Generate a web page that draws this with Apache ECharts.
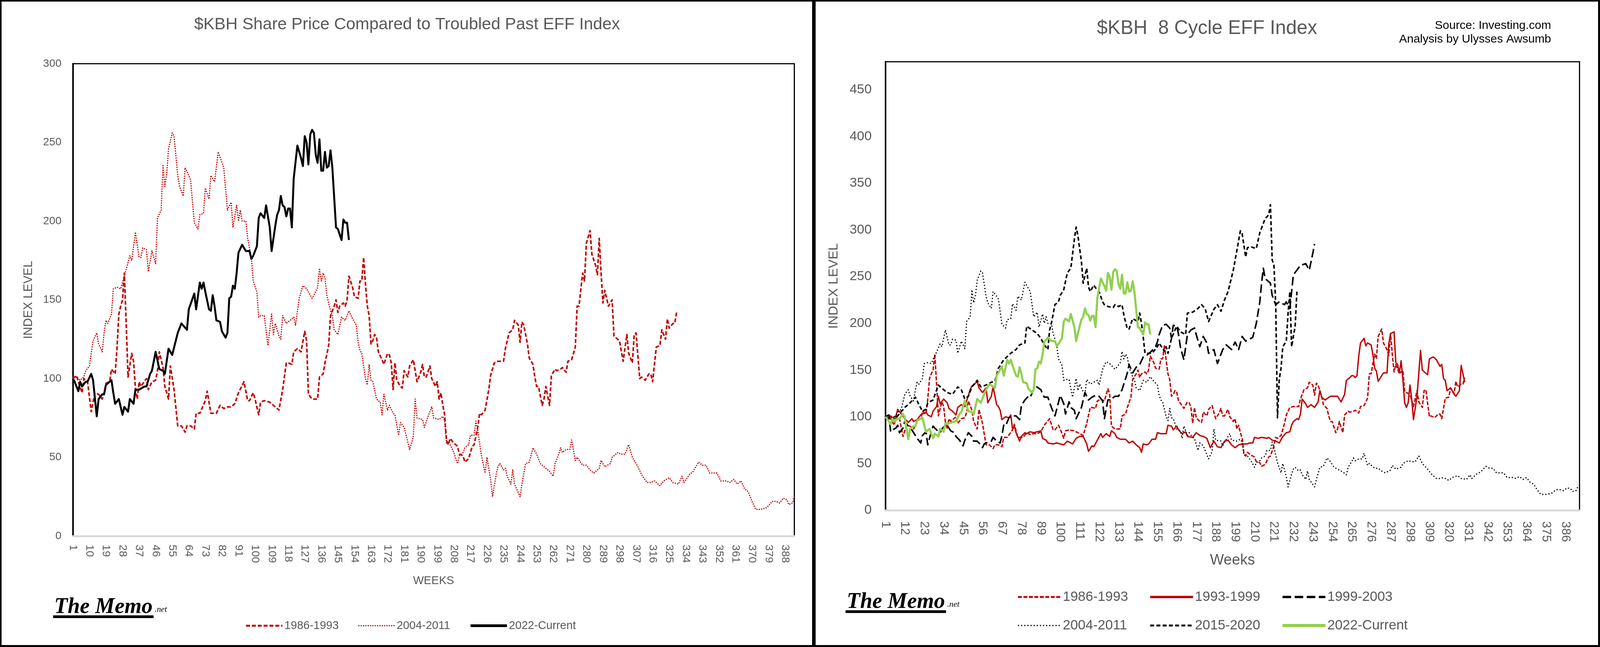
<!DOCTYPE html>
<html><head><meta charset="utf-8">
<script src="https://cdn.jsdelivr.net/npm/echarts@6/dist/echarts.min.js"></script>
<style>
html,body{margin:0;padding:0;background:#fff;overflow:hidden;}
#wrap{position:relative;width:100vw;height:100vh;overflow:hidden;background:#fff;}
.pane{position:absolute;top:0;}
.frame{position:absolute;top:0;border:solid #000;box-sizing:border-box;pointer-events:none;}
</style></head><body>
<div id="wrap">
<div id="left" class="pane"></div><div id="right" class="pane"></div>
<div id="fl" class="frame"></div><div id="fr" class="frame"></div>
</div>
<script>
// ---------- tick labels ----------
const weeksLeft = Array.from({length: 393}, (_, i) => String(i + 1));
const weeksRight = Array.from({length: 394}, (_, i) => String(i + 1));

// ---------- series values: [week, index level] ----------
const s1986 = [[1,100],[3,102],[4,98],[6,91],[7,100],[9,98],[11,79],[12,85],[13,91],[15,90],[17,87],[18,91],[19,97],[21,98],[22,106],[24,103],[25,119],[26,141],[27,146],[28,150],[29,167],[30,135],[31,101],[33,116],[34,111],[35,94],[36,87],[37,98],[38,95],[41,100],[42,93],[44,98],[46,99],[47,105],[48,117],[50,107],[51,95],[53,87],[54,108],[56,93],[58,70],[60,70],[62,66],[63,70],[65,70],[67,68],[68,78],[70,78],[73,86],[74,92],[76,78],[79,78],[81,83],[83,81],[85,82],[87,82],[89,84],[91,91],[94,98],[96,86],[97,86],[99,91],[100,87],[102,77],[103,85],[105,86],[108,85],[111,82],[113,80],[115,93],[117,110],[118,110],[120,109],[121,117],[123,119],[125,117],[127,130],[128,124],[129,90],[131,87],[132,87],[134,87],[135,101],[137,103],[138,110],[140,121],[141,140],[143,146],[144,150],[145,142],[146,146],[148,148],[149,146],[150,150],[151,165],[153,158],[154,152],[156,151],[157,162],[158,162],[159,177],[160,160],[161,146],[162,140],[163,122],[164,124],[165,128],[166,126],[167,117],[169,112],[170,109],[172,116],[173,115],[174,110],[175,93],[176,110],[177,99],[179,95],[180,94],[181,105],[183,101],[184,108],[186,112],[188,98],[190,104],[191,109],[192,101],[193,101],[195,108],[196,100],[198,95],[199,98],[200,87],[201,91],[202,83],[203,77],[204,61],[205,58],[206,62],[208,59],[210,57],[211,52],[213,51],[214,47],[216,49],[218,57],[219,58],[221,69],[222,78],[223,77],[225,80],[227,93],[228,102],[230,110],[232,111],[235,111],[236,119],[238,129],[240,131],[241,137],[243,134],[244,123],[245,136],[246,134],[248,122],[249,113],[251,109],[252,101],[253,95],[254,95],[256,83],[257,87],[258,95],[260,83],[261,102],[263,106],[264,105],[266,106],[267,107],[269,104],[270,111],[272,112],[274,120],[275,146],[276,146],[278,167],[279,162],[280,186],[282,194],[283,179],[285,172],[286,166],[287,189],[288,167],[289,148],[290,156],[292,146],[294,150],[295,127],[297,125],[298,124],[300,111],[302,128],[303,116],[305,110],[306,128],[307,129],[309,100],[310,101],[312,99],[314,103],[315,103],[316,98],[318,120],[320,121],[321,131],[323,125],[324,138],[325,132],[327,135],[328,135],[329,142]];

const s2004 = [[1,101],[3,101],[5,99],[7,101],[8,105],[10,108],[11,116],[12,124],[14,129],[15,122],[17,117],[18,129],[19,137],[20,135],[22,141],[23,157],[25,158],[27,157],[28,161],[29,165],[32,178],[33,175],[35,193],[37,177],[38,177],[39,183],[41,182],[42,168],[44,181],[46,173],[47,202],[49,207],[50,236],[51,222],[52,230],[53,246],[55,256],[56,254],[58,229],[59,222],[61,216],[62,234],[64,229],[65,226],[67,199],[68,197],[69,195],[70,204],[72,205],[73,221],[75,214],[76,229],[78,225],[80,244],[83,234],[85,207],[87,212],[88,196],[90,210],[91,200],[92,207],[93,200],[95,200],[96,189],[98,177],[99,162],[101,155],[102,139],[103,140],[105,140],[107,121],[109,141],[110,128],[111,135],[113,127],[114,125],[115,140],[117,135],[119,137],[121,139],[122,134],[124,151],[126,159],[128,157],[129,155],[131,151],[132,153],[134,158],[135,170],[136,162],[137,167],[138,164],[139,153],[141,143],[142,140],[143,131],[145,128],[147,139],[149,137],[151,143],[153,138],[155,134],[156,123],[157,118],[158,116],[160,100],[161,96],[162,109],[163,99],[164,98],[166,87],[168,85],[169,77],[170,90],[172,80],[173,83],[175,78],[176,77],[178,64],[179,72],[181,69],[184,55],[186,63],[187,87],[188,75],[191,74],[192,69],[194,76],[196,82],[197,75],[200,74],[202,76],[203,73],[204,59],[206,58],[208,53],[210,46],[211,51],[213,53],[214,56],[216,58],[217,64],[219,64],[220,73],[221,67],[223,51],[225,40],[226,50],[228,36],[229,25],[231,39],[232,44],[233,46],[235,42],[236,43],[237,38],[239,33],[240,42],[241,33],[244,25],[245,33],[247,46],[249,47],[251,56],[253,52],[255,46],[257,44],[260,41],[262,38],[263,46],[265,52],[266,56],[267,53],[269,55],[271,55],[272,61],[274,48],[275,50],[278,45],[280,45],[282,42],[284,40],[287,43],[288,48],[290,44],[293,46],[294,50],[297,53],[299,52],[301,52],[303,58],[305,50],[308,44],[310,39],[313,34],[315,34],[317,35],[320,32],[322,35],[325,37],[327,34],[330,33],[332,38],[333,34],[336,39],[338,41],[341,47],[343,45],[345,45],[347,40],[351,40],[353,35],[356,35],[358,34],[360,36],[362,33],[364,35],[366,30],[368,28],[370,22],[372,17],[375,17],[378,18],[381,22],[383,22],[385,21],[387,24],[389,23],[390,20],[392,21],[393,25]];

const s2022 = [[1,100],[2,98],[4,92],[5,98],[6,95],[8,98],[9,98],[11,103],[12,99],[14,76],[15,87],[17,90],[18,90],[19,96],[20,97],[22,99],[23,91],[24,84],[26,87],[28,77],[29,82],[31,79],[32,87],[34,84],[35,93],[37,93],[40,95],[41,95],[43,103],[44,105],[46,117],[48,106],[50,105],[51,103],[53,119],[55,115],[58,129],[60,135],[63,131],[64,144],[67,154],[68,144],[70,161],[71,157],[72,161],[73,155],[75,144],[76,143],[77,153],[78,146],[79,137],[81,136],[82,130],[84,126],[85,129],[86,151],[87,152],[88,159],[89,157],[90,167],[91,180],[93,185],[95,181],[97,181],[98,176],[99,178],[100,181],[101,184],[102,202],[103,205],[105,202],[106,210],[108,196],[109,181],[111,197],[112,204],[113,207],[114,216],[115,210],[116,209],[117,203],[118,208],[119,208],[120,196],[121,227],[123,248],[125,240],[126,235],[127,254],[128,250],[129,236],[130,255],[131,258],[132,256],[133,242],[134,237],[135,252],[136,232],[137,232],[138,244],[139,234],[140,235],[141,245],[142,234],[144,196],[145,195],[147,188],[148,201],[149,199],[150,199],[151,188]];

const s1993 = [[1,100],[3,98],[4,101],[5,99],[7,101],[8,108],[10,103],[12,98],[14,94],[16,98],[17,95],[19,97],[21,102],[22,103],[24,105],[25,102],[27,100],[28,106],[30,111],[31,122],[32,114],[34,119],[36,115],[37,109],[39,106],[41,102],[42,110],[44,113],[46,111],[47,117],[49,129],[50,133],[51,134],[53,138],[54,131],[56,126],[58,131],[59,115],[61,122],[62,132],[64,113],[65,111],[66,107],[67,97],[69,100],[71,99],[72,102],[73,87],[74,90],[75,83],[77,74],[78,79],[80,83],[81,82],[83,84],[85,83],[87,84],[89,85],[90,77],[92,75],[93,72],[96,71],[98,72],[102,70],[104,74],[107,71],[109,77],[111,79],[113,79],[115,71],[116,63],[118,69],[119,68],[121,75],[123,82],[124,78],[126,82],[128,79],[129,85],[131,82],[132,78],[134,76],[137,76],[139,72],[141,74],[143,70],[145,67],[146,62],[147,71],[149,70],[150,71],[152,76],[154,76],[155,83],[157,82],[160,82],[161,91],[163,90],[164,86],[166,90],[167,86],[169,82],[171,84],[172,79],[175,78],[177,83],[179,80],[181,79],[183,77],[185,67],[187,74],[189,68],[191,67],[193,74],[195,75],[197,70],[199,67],[201,70],[203,71],[206,71],[207,72],[209,72],[210,78],[212,77],[214,78],[217,77],[218,78],[220,75],[222,74],[224,72],[226,79],[228,83],[230,84],[231,91],[232,95],[234,98],[235,97],[236,103],[237,119],[239,114],[240,110],[242,113],[244,110],[245,113],[246,116],[247,128],[248,121],[250,118],[253,122],[255,122],[257,122],[259,116],[261,124],[262,139],[264,142],[265,144],[266,144],[267,142],[268,144],[269,165],[270,179],[272,184],[273,176],[274,179],[276,177],[277,167],[278,152],[279,149],[280,138],[282,144],[283,147],[285,147],[286,178],[287,189],[289,191],[290,158],[291,156],[292,147],[293,160],[294,140],[295,115],[296,110],[297,115],[298,134],[299,119],[300,97],[302,122],[304,171],[305,150],[308,145],[309,162],[311,164],[312,163],[313,161],[315,154],[316,156],[317,141],[318,139],[319,128],[321,131],[323,124],[324,122],[326,128],[327,155],[329,137]];

const s1999 = [[1,100],[3,102],[4,84],[5,86],[7,88],[8,91],[9,83],[11,88],[12,95],[14,90],[16,86],[18,80],[19,77],[21,72],[22,80],[24,84],[25,70],[27,84],[28,90],[30,86],[32,83],[33,87],[35,91],[36,91],[38,85],[40,83],[41,79],[43,75],[45,69],[46,75],[48,83],[50,79],[51,74],[53,74],[55,70],[56,67],[57,71],[58,72],[61,74],[62,78],[64,74],[66,72],[67,80],[68,91],[69,90],[71,99],[73,101],[75,101],[77,97],[78,112],[80,118],[82,122],[83,121],[85,129],[86,133],[89,129],[91,121],[93,121],[95,110],[97,101],[98,108],[100,123],[102,114],[103,103],[105,116],[106,110],[108,107],[109,98],[111,106],[112,110],[114,126],[116,118],[118,121],[120,123],[122,122],[124,117],[125,98],[127,118],[129,119],[131,122],[133,122],[135,129],[138,147],[139,156],[141,147],[143,153],[145,156],[147,164],[149,166],[151,169],[154,175],[155,180],[156,188],[158,198],[160,199],[162,195],[163,184],[164,198],[166,197],[167,188],[168,175],[169,168],[170,161],[172,188],[174,193],[176,195],[177,188],[179,175],[181,186],[183,179],[184,168],[187,172],[189,157],[192,172],[194,177],[197,172],[199,180],[201,172],[203,186],[205,181],[209,185],[211,200],[213,223],[214,243],[215,259],[216,248],[219,243],[220,230],[222,220],[224,223],[227,220],[228,223],[230,216],[231,234],[232,252],[234,257],[236,262],[239,264],[241,257],[243,275],[244,285]];

const s2015 = [[1,100],[5,97],[8,101],[12,110],[15,115],[18,121],[20,113],[22,106],[24,108],[25,115],[28,118],[31,134],[34,129],[36,126],[39,124],[42,132],[44,129],[46,119],[48,122],[50,132],[53,139],[55,132],[58,134],[61,137],[63,138],[65,152],[68,161],[72,168],[75,172],[77,177],[80,179],[81,197],[84,193],[87,189],[89,184],[91,177],[93,172],[94,193],[95,200],[97,220],[99,223],[100,230],[102,236],[104,254],[106,259],[108,290],[109,303],[110,294],[112,266],[113,243],[115,259],[116,239],[117,234],[119,241],[120,238],[122,234],[124,223],[125,220],[127,218],[130,217],[131,220],[133,218],[135,220],[136,209],[138,194],[139,194],[141,205],[144,202],[145,211],[146,200],[147,185],[148,168],[150,168],[152,168],[155,175],[156,179],[159,170],[160,175],[161,168],[163,184],[165,193],[166,197],[168,191],[171,188],[172,211],[175,212],[178,216],[180,220],[182,216],[184,202],[187,215],[189,220],[191,213],[193,225],[195,234],[198,257],[200,278],[202,299],[203,296],[205,271],[206,281],[208,282],[211,280],[213,297],[216,312],[218,316],[219,327],[220,268],[221,262],[222,220],[223,99],[224,140],[225,152],[226,175],[228,181],[229,211],[230,234],[231,175],[233,197],[234,234]];

// ---------- layout scale (design size 4219 x 1656) ----------
const VW = window.innerWidth || 4219, VH = window.innerHeight || 1656;
const sx = VW / 4219, sy = VH / 1656, sf = Math.min(sx, sy);
const X = v => v * sx, Y = v => v * sy, F = v => v * sf;

const splitX = X(2147);
const elL = document.getElementById('left'), elR = document.getElementById('right');
elL.style.left = '0px'; elL.style.width = splitX + 'px'; elL.style.height = VH + 'px';
elR.style.left = splitX + 'px'; elR.style.width = (VW - splitX) + 'px'; elR.style.height = VH + 'px';
const fl = document.getElementById('fl'), fr = document.getElementById('fr');
fl.style.left = '0px'; fl.style.width = X(2147) + 'px'; fl.style.height = VH + 'px';
fl.style.borderWidth = '4px 5px 5px 4px';
fr.style.left = X(2146) + 'px'; fr.style.width = (VW - X(2146)) + 'px'; fr.style.height = VH + 'px';
fr.style.borderWidth = '4px 5px 5px 5px';

// ---------- helpers ----------
const SANS = "'Liberation Sans', Arial, sans-serif";
const GREY = '#595959';
const RED = '#C00000';
function line(name, pts, color, width, type, z) {
  return {
    name: name, type: 'line', data: pts.map(p => [String(p[0]), p[1]]),
    showSymbol: false, symbol: 'none', z: z, animation: false,
    lineStyle: {color: color, width: width, type: type, cap: 'butt', join: 'round'},
    itemStyle: {color: color}, emphasis: {disabled: true}
  };
}
function logo(x, y) {
  return [
    {type: 'text', left: X(x), top: Y(y), style: {text: 'The Memo', font: 'italic bold ' + F(58) + 'px "Liberation Serif"', fill: '#000'}},
    {type: 'text', left: X(x + 265), top: Y(y + 24), style: {text: '.net', font: 'italic ' + F(22) + 'px "Liberation Serif"', fill: '#000'}},
    {type: 'rect', left: X(x - 3), top: Y(y + 49), shape: {width: X(265), height: Y(7)}, style: {fill: '#000'}}
  ];
}
const legendIcon = {opacity: 0};
const legItem = (name, w) => ({name: name, lineStyle: {width: w}});

// ---------- left chart ----------
const left = echarts.init(elL, null, {renderer: 'canvas'});
left.setOption({
  animation: false,
  backgroundColor: 'transparent',
  title: {text: '$KBH Share Price Compared to Troubled Past EFF Index', left: 'center', top: Y(42), padding: 0,
    textStyle: {fontFamily: SANS, fontSize: F(44), fontWeight: 'normal', color: GREY}},
  grid: {left: X(192), right: X(52), top: Y(163), bottom: Y(284), show: true, borderColor: '#000', borderWidth: 3},
  xAxis: {type: 'category', data: weeksLeft, boundaryGap: false,
    axisLine: {lineStyle: {color: '#D9D9D9', width: 5}}, axisTick: {show: false},
    axisLabel: {interval: 8, rotate: -90, fontFamily: SANS, fontSize: F(29), color: GREY, margin: Y(22)},
    name: 'WEEKS', nameLocation: 'middle', nameGap: Y(100),
    nameTextStyle: {fontFamily: SANS, fontSize: F(30), color: GREY, verticalAlign: 'top'}},
  yAxis: {type: 'value', min: 0, max: 300, interval: 50,
    axisLine: {show: true, lineStyle: {color: '#000', width: 4}}, axisTick: {show: false}, splitLine: {show: false},
    axisLabel: {fontFamily: SANS, fontSize: F(29), color: GREY, margin: X(30)},
    name: 'INDEX LEVEL', nameLocation: 'middle', nameGap: X(100), nameRotate: 90,
    nameTextStyle: {fontFamily: SANS, fontSize: F(32), color: GREY}},
  legend: {left: X(641), top: Y(1582), itemWidth: X(96), itemHeight: Y(20), itemGap: X(50), itemStyle: legendIcon,
    textStyle: {fontFamily: SANS, fontSize: F(30), color: GREY},
    data: [legItem('1986-1993', 5), legItem('2004-2011', 3), legItem('2022-Current', 7)], selectedMode: false},
  series: [
    line('1986-1993', s1986, RED, 4, [10, 5], 2),
    line('2004-2011', s2004, RED, 3, [3, 3], 3),
    line('2022-Current', s2022, '#000', 5, 'solid', 4)
  ],
  graphic: logo(143, 1526)
});

// ---------- right chart ----------
const right = echarts.init(elR, null, {renderer: 'canvas'});
const legStyle = {fontFamily: SANS, fontSize: F(36), color: GREY, lineHeight: Y(36)};
function leg(x, items) {
  return {orient: 'vertical', left: X(x), top: Y(1505), itemWidth: X(113), itemHeight: Y(24), itemGap: Y(37),
    itemStyle: legendIcon, textStyle: legStyle, data: items, selectedMode: false};
}
right.setOption({
  animation: false,
  backgroundColor: 'transparent',
  title: {text: '$KBH  8 Cycle EFF Index', left: 'center', top: Y(48), padding: 0,
    textStyle: {fontFamily: SANS, fontSize: F(51), fontWeight: 'normal', color: GREY}},
  grid: {left: X(188), right: X(54), top: Y(158), bottom: Y(350), show: true, borderColor: '#000', borderWidth: 3},
  xAxis: {type: 'category', data: weeksRight, boundaryGap: false,
    axisLine: {lineStyle: {color: '#D9D9D9', width: 5}}, axisTick: {show: false},
    axisLabel: {interval: 10, rotate: -90, fontFamily: SANS, fontSize: F(33), color: GREY, margin: Y(28)},
    name: 'Weeks', nameLocation: 'middle', nameGap: Y(110),
    nameTextStyle: {fontFamily: SANS, fontSize: F(39), color: GREY, verticalAlign: 'top'}},
  yAxis: {type: 'value', min: 0, max: 480, interval: 50,
    axisLine: {show: true, lineStyle: {color: '#000', width: 4}}, axisTick: {show: false}, splitLine: {show: false},
    axisLabel: {fontFamily: SANS, fontSize: F(35), color: GREY, margin: X(36), showMaxLabel: false},
    name: 'INDEX LEVEL', nameLocation: 'middle', nameGap: X(118), nameRotate: 90,
    nameTextStyle: {fontFamily: SANS, fontSize: F(35), color: GREY}},
  legend: [
    leg(530, [legItem('1986-1993', 5), legItem('2004-2011', 3)]),
    leg(878, [legItem('1993-1999', 6), legItem('2015-2020', 5)]),
    leg(1226, [legItem('1999-2003', 6), legItem('2022-Current', 8)])
  ],
  series: [
    line('1986-1993', s1986, RED, 3.5, [10, 4], 2),
    line('1993-1999', s1993, RED, 3.5, 'solid', 3),
    line('1999-2003', s1999, '#000', 4, [22, 9], 4),
    line('2004-2011', s2004, '#000', 3, [3, 5], 5),
    line('2015-2020', s2015, '#000', 4, [10, 6], 6),
    line('2022-Current', s2022, '#92D050', 5.5, 'solid', 7)
  ],
  graphic: logo(86, 1513).concat([
    {type: 'text', right: X(129), top: Y(51), style: {text: 'Source: Investing.com', font: F(31) + 'px ' + SANS, fill: '#000'}},
    {type: 'text', right: X(129), top: Y(86), style: {text: 'Analysis by Ulysses Awsumb', font: F(31) + 'px ' + SANS, fill: '#000'}}
  ])
});
</script>
</body></html>
